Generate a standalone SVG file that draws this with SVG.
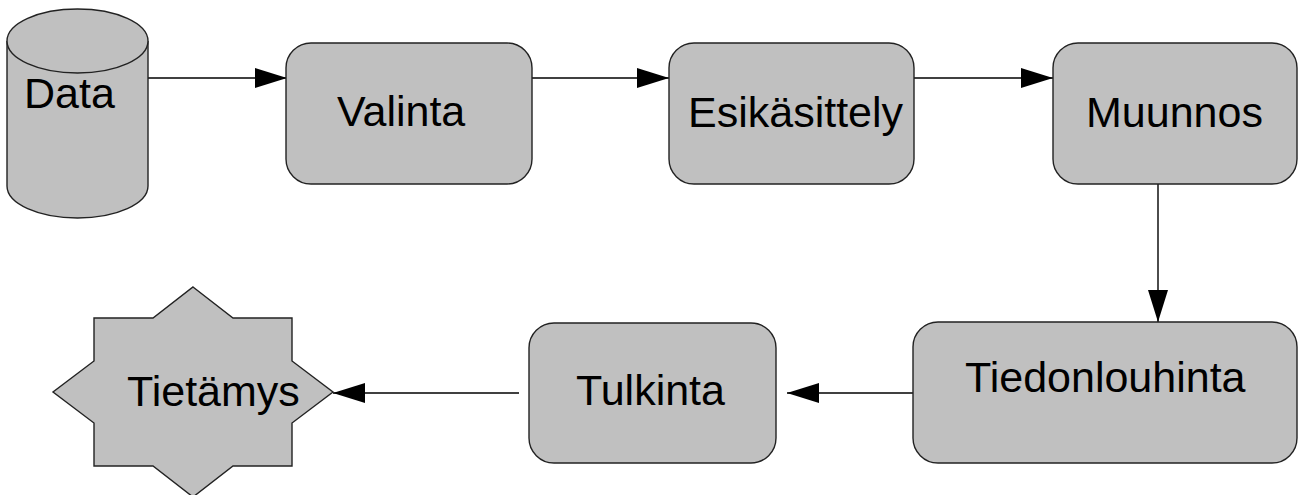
<svg xmlns="http://www.w3.org/2000/svg" width="1300" height="495" viewBox="0 0 1300 495">
  <style>
    .shape { fill: #c0c0c0; stroke: #222; stroke-width: 1.4; }
    .label { font-family: "Liberation Sans", Arial, sans-serif; font-size: 43px; fill: #000; }
    .edge { stroke: #000; stroke-width: 1.4; fill: none; marker-end: url(#arrow); }
  </style>
  <defs>
    <marker id="arrow" viewBox="0 0 32 20" refX="32" refY="10" markerWidth="32" markerHeight="20" markerUnits="userSpaceOnUse" orient="auto">
      <path d="M0,0 L32,10 L0,20 Z" fill="#000"/>
    </marker>
  </defs>

  <rect width="1300" height="495" fill="#fff"/>

  <!-- connectors -->
  <g id="connectors">
    <line class="edge" x1="148" y1="78" x2="287" y2="78"/>
    <line class="edge" x1="532" y1="78" x2="669" y2="78"/>
    <line class="edge" x1="914" y1="78" x2="1053" y2="78"/>
    <line class="edge" x1="1158" y1="184" x2="1158" y2="322"/>
    <line class="edge" x1="925" y1="393" x2="787" y2="393"/>
    <line class="edge" x1="519" y1="393" x2="333" y2="393"/>
  </g>

  <!-- database cylinder -->
  <g id="data">
    <path class="shape" d="M7,41 A70.5,32 0 0 1 148,41 L148,186 A70.5,32 0 0 1 7,186 Z"/>
    <path class="shape" d="M7,41 A70.5,32 0 0 0 148,41" fill="none"/>
    <text class="label" x="24" y="108">Data</text>
  </g>

  <g id="valinta">
    <rect class="shape" x="286" y="43" width="246" height="141" rx="25" ry="25"/>
    <text class="label" x="337" y="126">Valinta</text>
  </g>

  <g id="esikasittely">
    <rect class="shape" x="669" y="43" width="245" height="141" rx="25" ry="25"/>
    <text class="label" x="688" y="127">Esikäsittely</text>
  </g>

  <g id="muunnos">
    <rect class="shape" x="1053" y="43" width="244" height="141" rx="25" ry="25"/>
    <text class="label" x="1086" y="127">Muunnos</text>
  </g>

  <g id="tiedonlouhinta">
    <rect class="shape" x="913" y="322" width="384" height="141" rx="25" ry="25"/>
    <text class="label" x="965" y="392">Tiedonlouhinta</text>
  </g>

  <g id="tulkinta">
    <rect class="shape" x="529" y="323" width="247" height="140" rx="25" ry="25"/>
    <text class="label" x="576" y="405">Tulkinta</text>
  </g>

  <!-- eight-pointed star -->
  <g id="tietamys">
    <polygon class="shape" points="193,287 233,318 292,318 292,361 333,392 292,423 292,466 233,466 193,497 153,466 94,466 94,423 53,392 94,361 94,318 153,318"/>
    <text class="label" x="127" y="406">Tietämys</text>
  </g>
</svg>
